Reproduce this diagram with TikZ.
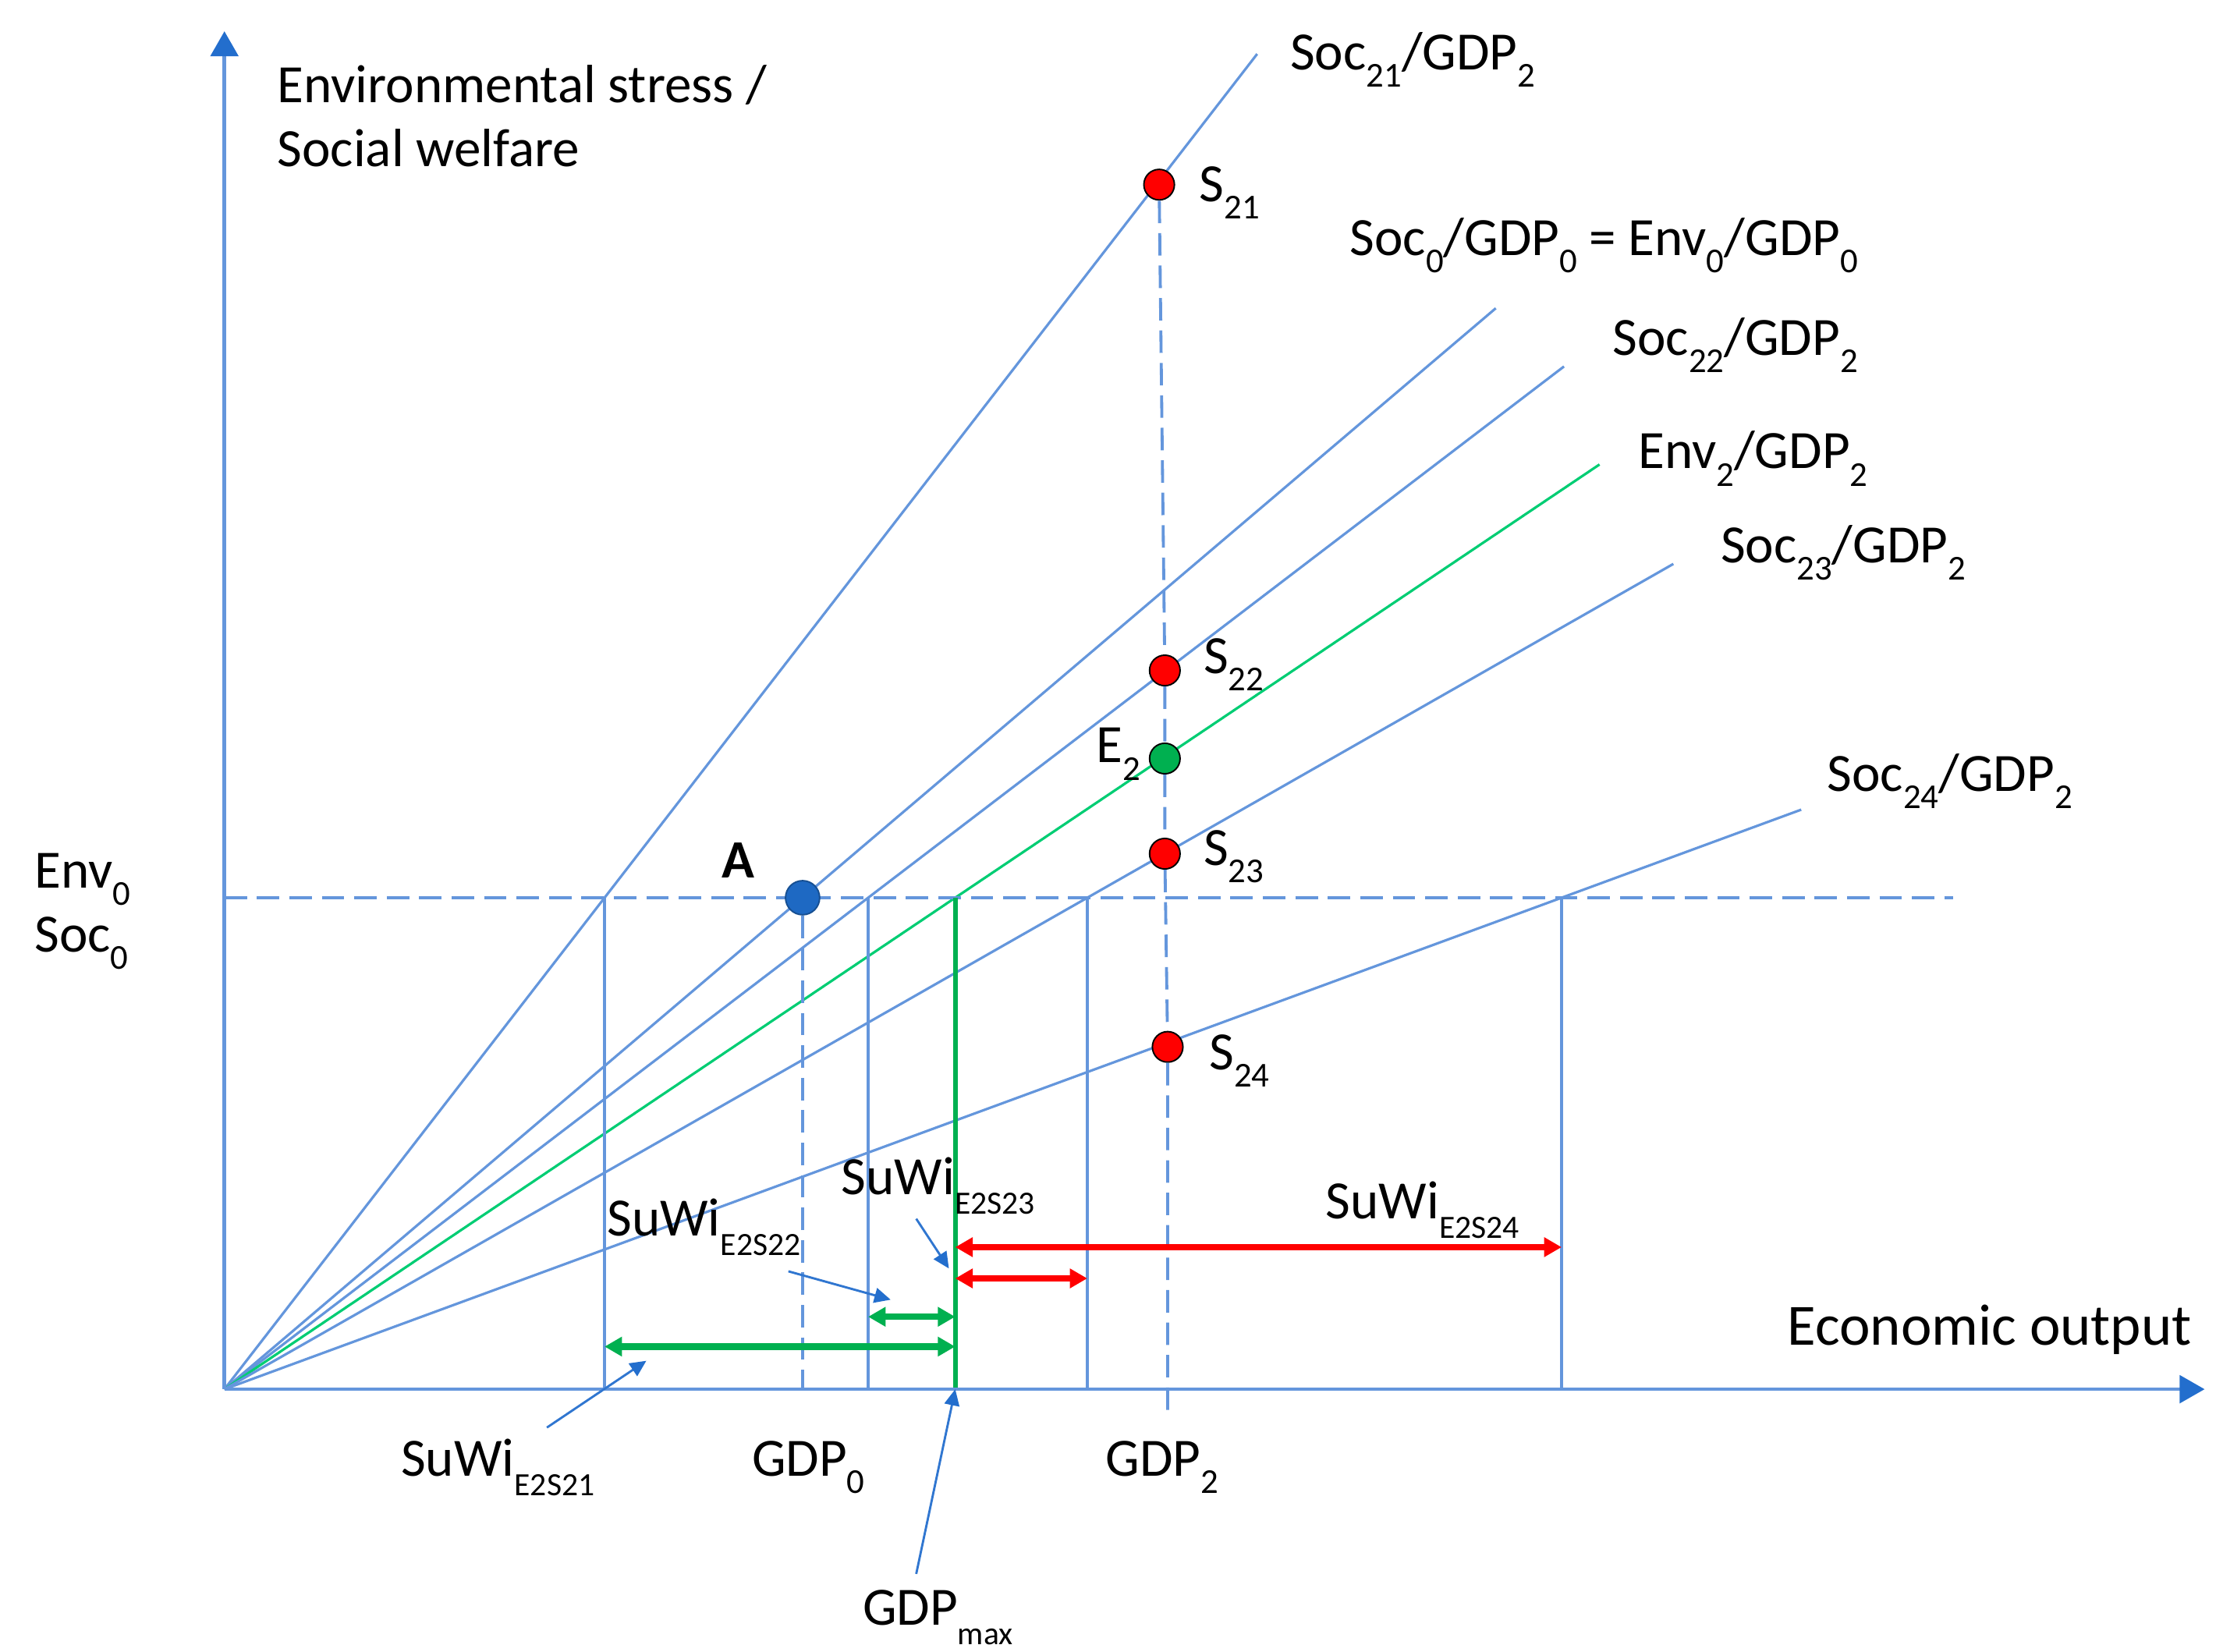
\documentclass[tikz,border=0pt]{standalone}
\usepackage{fontspec}
\setmainfont{Carlito}
\usetikzlibrary{arrows.meta,calc,positioning}

\definecolor{lineblue}{RGB}{100,150,220}
\definecolor{tipblue}{RGB}{35,110,205}
\definecolor{envgreen}{RGB}{0,205,115}
\definecolor{maxgreen}{RGB}{0,176,80}
\definecolor{ptblue}{RGB}{30,105,195}

\newcommand{\lo}[1]{\raisebox{-0.32em}{\fontsize{14}{14}\selectfont #1}}
\newcommand{\idx}[1]{\raisebox{-0.36em}{\fontsize{13}{13}\selectfont #1}}

\begin{document}
\begin{tikzpicture}[x=0.2mm,y=0.2mm,>={Triangle[length=7pt,width=7.5pt]},
  every node/.style={font=\fontsize{21.6}{25.6}\selectfont},
  axis/.style={draw=lineblue,line width=1.5pt,-{Triangle[length=10pt,width=11pt,color=tipblue]}},
  ray/.style={draw=lineblue,line width=1pt},
  guide/.style={draw=lineblue,line width=1.2pt,dash pattern=on 9pt off 4pt},
  bar/.style={<->,line width=2.6pt},
  ptr/.style={draw=tipblue!80!lineblue,line width=0.9pt,-{Triangle[length=6.5pt,width=6pt,color=tipblue]}},
  dot/.style={circle,draw=black,minimum size=4.3mm,inner sep=0pt,line width=0.6pt},
  lbl/.style={anchor=base west,inner sep=0pt}]

\useasboundingbox (-158,-185) rectangle (1402,978);

\coordinate (O) at (0,0);
\coordinate (ytop) at (0,956);
\coordinate (xend) at (1394,0);

% rays from the origin
\coordinate (e21) at (727,940);
\coordinate (e0) at (895,761);
\coordinate (e22) at (943,720);
\coordinate (eE) at (968,651);
\coordinate (e23) at (1020,581);
\coordinate (e24) at (1110,408);
\draw[ray] (O) -- (e21);
\draw[ray] (O) -- (e0);
\draw[ray] (O) -- (e22);
\draw[draw=envgreen,line width=1pt] (O) -- (eE);
\draw[ray] (O) -- (e23);
\draw[ray] (O) -- (e24);

% Env0 / Soc0 level
\coordinate (lvl) at (0,346);
\coordinate (lvlend) at (1217,346);
\draw[guide] (lvl) -- (lvlend);

% crossings of the level with the rays
\coordinate (v21) at ($(O)!346/940!(e21)$);
\coordinate (v22) at ($(O)!346/720!(e22)$);
\coordinate (vE) at ($(O)!346/651!(eE)$);
\coordinate (v23) at ($(O)!346/581!(e23)$);
\coordinate (v24) at ($(O)!346/408!(e24)$);
\draw[ray] (v21) -- (v21 |- O);
\draw[ray] (v22) -- (v22 |- O);
\draw[ray] (v23) -- (v23 |- O);
\draw[ray] (v24) -- (v24 |- O);
\draw[draw=maxgreen,line width=1.9pt] (vE) -- (vE |- O);

% points
\node[dot,fill=ptblue,draw=ptblue!75!black,minimum size=4.8mm] (A) at (407,346) {};
\node[dot,fill=red] (S21) at (658,848) {};
\node[dot,fill=red] (S22) at (662,506) {};
\node[dot,fill=maxgreen] (E2) at (662,444) {};
\node[dot,fill=red] (S23) at (662,377) {};
\node[dot,fill=red] (S24) at (664,241) {};
\coordinate (g0) at (407,0);
\coordinate (g2) at (664,-17);
\draw[guide] (A) -- (g0);
\draw[guide] (S21) -- (S22) -- (E2) -- (S23) -- (S24) -- (g2);

% axes
\draw[axis] (O) -- (ytop);
\draw[axis] (O) -- (xend);

% SuWi spans
\coordinate (h1) at (0,100);
\coordinate (h2) at (0,78);
\coordinate (h3) at (0,51);
\coordinate (h4) at (0,30);
\draw[bar,red] (vE |- h1) -- (v24 |- h1);
\draw[bar,red] (vE |- h2) -- (v23 |- h2);
\draw[bar,maxgreen] (v22 |- h3) -- (vE |- h3);
\draw[bar,maxgreen] (v21 |- h4) -- (vE |- h4);

% labels
\node[lbl,align=left] (ylab) at (37,861) {Environmental stress /\\Social welfare};
\node[lbl,align=left] (lvllab) at (-134,308) {Env\lo{0}\\Soc\lo{0}};
\node[lbl,font=\fontsize{21.6}{25.6}\selectfont\bfseries] (Alab) at (350,360) {A};
\node[lbl] (S21lab) at (686,836) {S\lo{21}};
\node[lbl] (S22lab) at (689,504) {S\lo{22}};
\node[lbl,anchor=base east] (E2lab) at (645,441) {E\lo{2}};
\node[lbl] (S23lab) at (689,369) {S\lo{23}};
\node[lbl] (S24lab) at (693,225) {S\lo{24}};
\node[lbl] (r21) at (750,929) {Soc\lo{21}/GDP\lo{2}};
\node[lbl] (r0) at (792,798) {Soc\lo{0}/GDP\lo{0} = Env\lo{0}/GDP\lo{0}};
\node[lbl] (r22) at (977,728) {Soc\lo{22}/GDP\lo{2}};
\node[lbl] (rE) at (995,648) {Env\lo{2}/GDP\lo{2}};
\node[lbl] (r23) at (1053,582) {Soc\lo{23}/GDP\lo{2}};
\node[lbl] (r24) at (1128,421) {Soc\lo{24}/GDP\lo{2}};
\node[lbl,font=\fontsize{23.4}{27}\selectfont] (xlab) at (1100,31) {Economic output};
\node[lbl] (w24) at (775,120) {SuWi\idx{E2S24}};
\node[lbl] (w23) at (434,137) {SuWi\idx{E2S23}};
\node[lbl] (w22) at (269,108) {SuWi\idx{E2S22}};
\node[lbl] (w21) at (124,-61) {SuWi\idx{E2S21}};
\node[lbl] (gdp0) at (371,-61) {GDP\lo{0}};
\node[lbl] (gdp2) at (620,-61) {GDP\lo{2}};
\node[lbl] (gdpmax) at (449,-166) {GDP\idx{max}};

% pointers
\coordinate (p22) at (397,83);
\coordinate (t22) at (469,63);
\coordinate (p23) at (487,120);
\coordinate (t23) at (510,85);
\coordinate (p21) at (227,-27);
\coordinate (t21) at (297,20);
\coordinate (pmax) at (487,-130);
\draw[ptr] (p22) -- (t22);
\draw[ptr] (p23) -- (t23);
\draw[ptr] (p21) -- (t21);
\draw[ptr] (pmax) -- (vE |- O);
\end{tikzpicture}
\end{document}
